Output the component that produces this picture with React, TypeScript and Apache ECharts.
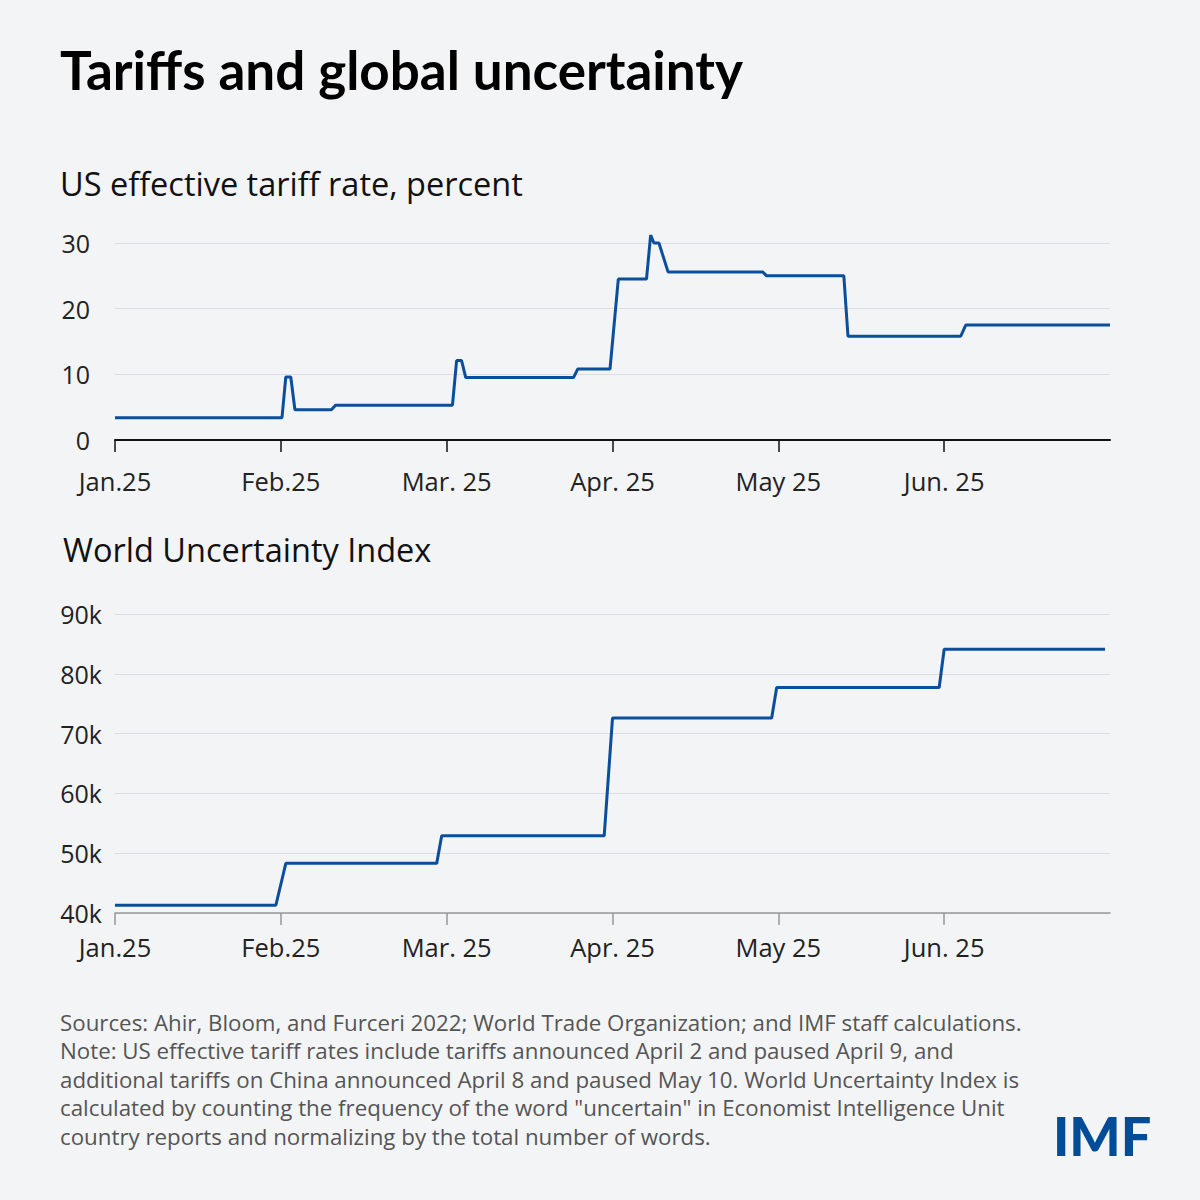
import { useRef, useEffect } from 'react';
import * as echarts from 'echarts';

// x is measured in months from Jan 1 (0 = Jan, 1 = Feb, ...)
const monthLabels = ['Jan.25', 'Feb.25', 'Mar. 25', 'Apr. 25', 'May 25', 'Jun. 25'];

const tariffMonths = [
  0, 1.007, 1.03, 1.06, 1.085, 1.305, 1.33, 2.035, 2.06, 2.09, 2.115, 2.765, 2.79,
  2.985, 3.035, 3.205, 3.23, 3.25, 3.28, 3.335, 3.905, 3.93, 4.395, 4.42, 5.1, 5.13, 6,
];
const tariffRates = [
  3.4, 3.4, 9.6, 9.6, 4.6, 4.6, 5.3, 5.3, 12.1, 12.1, 9.5, 9.5, 10.8,
  10.8, 24.5, 24.5, 31.2, 30.0, 30.0, 25.6, 25.6, 25.0, 25.0, 15.8, 15.8, 17.5, 17.5,
];

const wuiMonths = [0, 0.97, 1.03, 1.94, 1.97, 2.95, 3.0, 3.96, 3.99, 4.97, 5.0, 5.97];
const wuiValues = [
  41300, 41300, 48300, 48300, 52900, 52900, 72600, 72600, 77700, 77700, 84100, 84100,
];

const tariffTicks = [0, 10, 20, 30];
const wuiTicks = [40000, 50000, 60000, 70000, 80000, 90000];

const noteLines = [
  'Sources: Ahir, Bloom, and Furceri 2022; World Trade Organization; and IMF staff calculations.',
  'Note: US effective tariff rates include tariffs announced April 2 and paused April 9, and',
  'additional tariffs on China announced April 8 and paused May 10. World Uncertainty Index is',
  'calculated by counting the frequency of the word "uncertain" in Economist Intelligence Unit',
  'country reports and normalizing by the total number of words.',
];

const FONT = '"Open Sans", "Noto Sans", sans-serif';
const TITLE_FONT = 'Lato, "Noto Sans", sans-serif';
const BLUE = '#0b4f9c';

export default function App() {
  const chartRef = useRef<HTMLDivElement>(null);

  useEffect(() => {
    if (!chartRef.current) return;
    const chart = echarts.init(chartRef.current, undefined, { renderer: 'svg' });

    const xAxisBase = (gridIndex: number, lineColor: string, margin: number) => ({
      type: 'value' as const,
      gridIndex,
      min: 0,
      max: 6,
      interval: 1,
      splitLine: { show: false },
      axisLine: { show: true, lineStyle: { color: lineColor, width: gridIndex === 0 ? 2 : 1.5 } },
      axisTick: {
        show: true,
        length: 12,
        customValues: [0, 1, 2, 3, 4, 5],
        lineStyle: { color: lineColor, width: 1.5 },
      },
      axisLabel: {
        customValues: [0, 1, 2, 3, 4, 5],
        formatter: (v: number) => monthLabels[Math.round(v)] ?? '',
        color: '#222',
        fontSize: 25.5,
        fontFamily: FONT,
        margin,
      },
    });

    chart.setOption({
      animation: false,
      backgroundColor: '#f3f4f6',
      grid: [
        { left: 115, right: 90, top: 243, height: 197 },
        { left: 115, right: 90, top: 614, height: 299 },
      ],
      xAxis: [xAxisBase(0, '#111', 28), xAxisBase(1, '#999', 21)],
      yAxis: [
        {
          type: 'value',
          gridIndex: 0,
          min: tariffTicks[0],
          max: tariffTicks[tariffTicks.length - 1],
          interval: 10,
          axisLine: { show: false },
          axisTick: { show: false },
          splitLine: { lineStyle: { color: '#dcdde0', width: 1.2 } },
          axisLabel: { color: '#222', fontSize: 25, fontFamily: FONT, margin: 25 },
        },
        {
          type: 'value',
          gridIndex: 1,
          min: wuiTicks[0],
          max: wuiTicks[wuiTicks.length - 1],
          interval: 10000,
          axisLine: { show: false },
          axisTick: { show: false },
          splitLine: { lineStyle: { color: '#dcdde0', width: 1.2 } },
          axisLabel: {
            color: '#222',
            fontSize: 25,
            fontFamily: FONT,
            margin: 13,
            formatter: (v: number) => `${v / 1000}k`,
          },
        },
      ],
      series: [
        {
          type: 'line',
          xAxisIndex: 0,
          yAxisIndex: 0,
          showSymbol: false,
          clip: false,
          lineStyle: { color: BLUE, width: 3 },
          data: tariffMonths.map((m, i) => [m, tariffRates[i]]),
        },
        {
          type: 'line',
          xAxisIndex: 1,
          yAxisIndex: 1,
          showSymbol: false,
          clip: false,
          lineStyle: { color: BLUE, width: 3 },
          data: wuiMonths.map((m, i) => [m, wuiValues[i]]),
        },
      ],
      graphic: [
        {
          type: 'text',
          left: 60,
          top: 43,
          style: {
            text: 'Tariffs and global uncertainty',
            font: `bold 53px ${TITLE_FONT}`,
            fill: '#000',
          },
        },
        {
          type: 'text',
          left: 60,
          top: 167,
          style: {
            text: 'US effective tariff rate, percent',
            font: `32.5px ${FONT}`,
            fill: '#111',
          },
        },
        {
          type: 'text',
          left: 63,
          top: 533,
          style: {
            text: 'World Uncertainty Index',
            font: `32.5px ${FONT}`,
            fill: '#111',
          },
        },
        ...noteLines.map((line, i) => ({
          type: 'text',
          left: 60,
          top: 1011 + i * 28.5,
          style: { text: line, font: `22.3px ${FONT}`, fill: '#555' },
        })),
        {
          type: 'text',
          left: 1053,
          top: 1108,
          style: { text: 'IMF', font: `900 54px ${TITLE_FONT}`, fill: '#004c97' },
        },
      ],
    });

    return () => {
      chart.dispose();
    };
  }, []);

  return (
    <div
      ref={chartRef}
      style={{ position: 'absolute', left: 0, top: 0, width: 1200, height: 1200 }}
    />
  );
}
